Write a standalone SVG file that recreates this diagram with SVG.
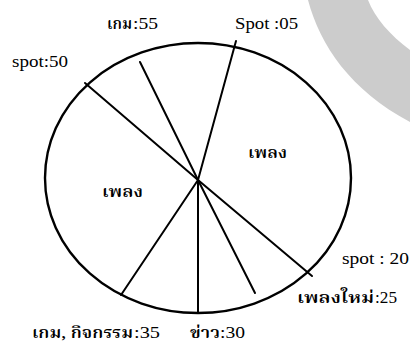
<svg xmlns="http://www.w3.org/2000/svg" width="410" height="346" viewBox="0 0 410 346">
<style>
.ln{stroke:#000;stroke-width:2;fill:none;stroke-linecap:round}
.lat{font-family:"Liberation Serif","Noto Serif Thai","Noto Sans Thai",serif;font-size:17px;fill:#000}
.th{font-family:"Noto Serif Thai","Noto Sans Thai","Liberation Serif",serif;font-size:16px;font-weight:600;fill:#000}
.sm{font-size:15px}
</style>
<rect width="410" height="346" fill="#fff"/>
<path id="curl" d="M308,0 C320,45 350,90 410,122 L410,50 C390,35 375,18 368,0 Z" fill="#cccccc"/>
<g id="pie">
<ellipse cx="198" cy="178" rx="153" ry="135" fill="none" stroke="#000" stroke-width="2.4"/>
</g>
<g id="connectors">
<line class="ln" x1="198" y1="180" x2="236" y2="41"/>
<line class="ln" x1="198" y1="180" x2="85" y2="83"/>
<line class="ln" x1="198" y1="180" x2="140" y2="62"/>
<line class="ln" x1="198" y1="180" x2="312" y2="276"/>
<line class="ln" x1="198" y1="180" x2="255" y2="293"/>
<line class="ln" x1="198" y1="180" x2="198" y2="313"/>
<line class="ln" x1="198" y1="180" x2="121" y2="295"/>
</g>
<g id="labels">
<g id="l-game55">
<text class="th" x="107" y="29" textLength="25" lengthAdjust="spacingAndGlyphs">เกม</text>
<text class="lat" x="133" y="29" textLength="25" lengthAdjust="spacingAndGlyphs">:55</text>
</g>
<text id="l-spot05" class="lat" x="235" y="29" textLength="63" lengthAdjust="spacingAndGlyphs">Spot :05</text>
<text id="l-spot50" class="lat" x="12" y="67" textLength="56" lengthAdjust="spacingAndGlyphs">spot:50</text>
<text id="l-spot20" class="lat" x="342" y="264" textLength="67" lengthAdjust="spacingAndGlyphs">spot : 20</text>
<g id="l-newsong25">
<text class="th" x="297" y="303" textLength="77" lengthAdjust="spacingAndGlyphs">เพลงใหม่</text>
<text class="lat" x="375" y="303" textLength="22" lengthAdjust="spacingAndGlyphs">:25</text>
</g>
<g id="l-news30">
<text class="th sm" x="190" y="338" textLength="30" lengthAdjust="spacingAndGlyphs">ข่าว</text>
<text class="lat" x="220" y="338" textLength="25" lengthAdjust="spacingAndGlyphs">:30</text>
</g>
<g id="l-game35">
<text class="th sm" x="32" y="338" textLength="101" lengthAdjust="spacingAndGlyphs">เกม, กิจกรรม</text>
<text class="lat" x="134" y="338" textLength="26" lengthAdjust="spacingAndGlyphs">:35</text>
</g>
<text id="l-song-r" class="th" x="248" y="158" textLength="39" lengthAdjust="spacingAndGlyphs">เพลง</text>
<text id="l-song-l" class="th" x="102" y="197" textLength="41" lengthAdjust="spacingAndGlyphs">เพลง</text>
</g>
</svg>
